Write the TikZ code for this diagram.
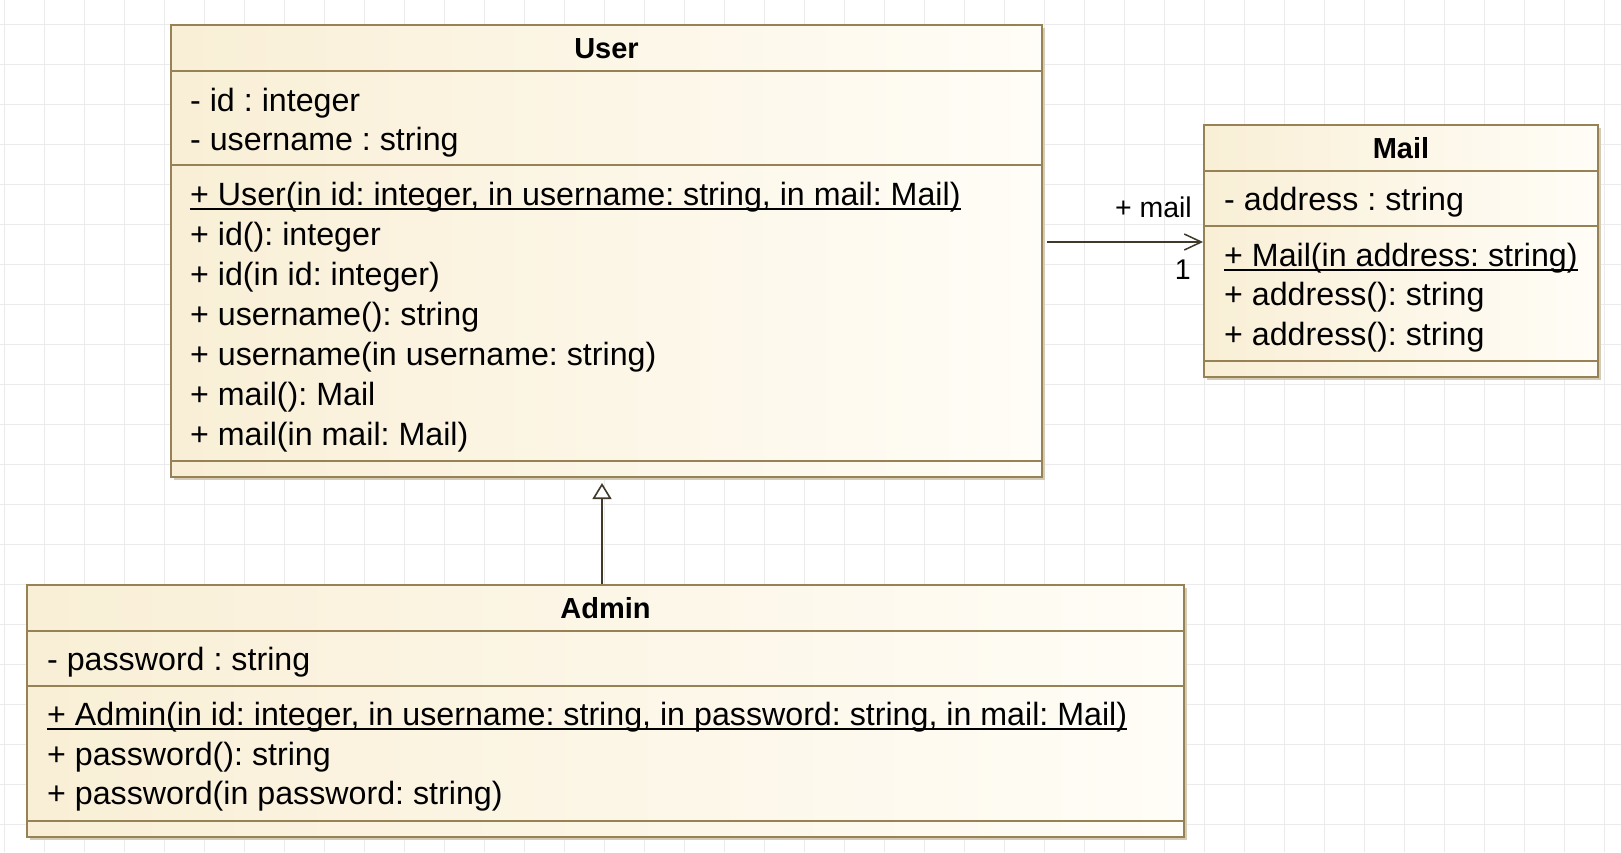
\documentclass[tikz,border=0pt]{standalone}
\usepackage{fontspec}
\setmainfont{Liberation Sans}
\usetikzlibrary{arrows.meta,shadows}
\definecolor{borderc}{RGB}{150,130,85}
\definecolor{shadowc}{RGB}{212,203,182}
\definecolor{fillL}{RGB}{249,239,214}
\definecolor{fillR}{RGB}{255,253,247}
\definecolor{arrowc}{RGB}{64,56,40}
\definecolor{gridc}{RGB}{235,235,235}
\frenchspacing
\begin{document}
\frenchspacing
\begin{tikzpicture}[x=1pt,y=-1pt,
  classbox/.style={draw=borderc, line width=2pt, left color=fillL, right color=fillR, inner sep=0pt,
    drop shadow={shadow xshift=3pt, shadow yshift=-3pt, fill=shadowc, opacity=1}},
  sepline/.style={draw=borderc, line width=1.3pt},
  mtxt/.style={anchor=base west, inner sep=0pt, font=\frenchspacing\fontsize{32.2pt}{40pt}\selectfont},
  hdr/.style={anchor=base, inner sep=0pt, font=\bfseries\fontsize{29pt}{36pt}\selectfont},
  lbl/.style={anchor=base east, inner sep=0pt, font=\fontsize{28.5pt}{34pt}\selectfont},
  ul/.style={draw=black, line width=2pt},
  assoc/.style={draw=arrowc, line width=2pt, -{Straight Barb[length=17pt, width=16pt, line width=1.5pt]}},
  inherit/.style={draw=arrowc, line width=2pt, -{Triangle[open, length=16pt, width=19pt, line width=1.6pt, fill=white]}}
]
\useasboundingbox (0,0) rectangle (1621,852);
\fill[white] (0,0) rectangle (1621,852);
\foreach \x in {4,44,...,1604} \draw[gridc, line width=1pt] (\x,0) -- (\x,852);
\foreach \y in {24,64,...,824} \draw[gridc, line width=1pt] (0,\y) -- (1621,\y);

% User
\node[classbox, minimum width=871pt, minimum height=452pt] (user) at (606.5,251) {};
\draw[sepline] ([yshift=-47pt]user.north west) -- ([yshift=-47pt]user.north east);
\draw[sepline] ([yshift=-141pt]user.north west) -- ([yshift=-141pt]user.north east);
\draw[sepline] ([yshift=17pt]user.south west) -- ([yshift=17pt]user.south east);
\node[hdr] (userT) at (606.5,58) {User};
\node[mtxt] (ua1) at (190,111) {- id : integer};
\node[mtxt] (ua2) at (190,150) {- username : string};
\node[mtxt] (um1) at (190,205) {+ User(in id: integer, in username: string, in mail: Mail)};
\draw[ul] ([yshift=-4pt]um1.base west) -- ([yshift=-4pt]um1.base east);
\node[mtxt] (um2) at (190,245) {+ id(): integer};
\node[mtxt] (um3) at (190,285) {+ id(in id: integer)};
\node[mtxt] (um4) at (190,325) {+ username(): string};
\node[mtxt] (um5) at (190,365) {+ username(in username: string)};
\node[mtxt] (um6) at (190,405) {+ mail(): Mail};
\node[mtxt] (um7) at (190,445) {+ mail(in mail: Mail)};

% Mail
\node[classbox, minimum width=394pt, minimum height=252pt] (mail) at (1401,251) {};
\draw[sepline] ([yshift=-47pt]mail.north west) -- ([yshift=-47pt]mail.north east);
\draw[sepline] ([yshift=-102pt]mail.north west) -- ([yshift=-102pt]mail.north east);
\draw[sepline] ([yshift=17pt]mail.south west) -- ([yshift=17pt]mail.south east);
\node[hdr] (mailT) at (1401,158) {Mail};
\node[mtxt] (ma1) at (1224,210) {- address : string};
\node[mtxt] (mm1) at (1224,266) {+ Mail(in address: string)};
\draw[ul] ([yshift=-4pt]mm1.base west) -- ([yshift=-4pt]mm1.base east);
\node[mtxt] (mm2) at (1224,305.5) {+ address(): string};
\node[mtxt] (mm3) at (1224,345) {+ address(): string};

% Admin
\node[classbox, minimum width=1157pt, minimum height=252pt] (admin) at (605.5,711) {};
\draw[sepline] ([yshift=-47pt]admin.north west) -- ([yshift=-47pt]admin.north east);
\draw[sepline] ([yshift=-102pt]admin.north west) -- ([yshift=-102pt]admin.north east);
\draw[sepline] ([yshift=17pt]admin.south west) -- ([yshift=17pt]admin.south east);
\node[hdr] (adminT) at (605.5,618) {Admin};
\node[mtxt] (aa1) at (47,670) {- password : string};
\node[mtxt] (am1) at (47,725) {+ Admin(in id: integer, in username: string, in password: string, in mail: Mail)};
\draw[ul] ([yshift=-4pt]am1.base west) -- ([yshift=-4pt]am1.base east);
\node[mtxt] (am2) at (47,765) {+ password(): string};
\node[mtxt] (am3) at (47,804) {+ password(in password: string)};

% Association User -> Mail
\draw[assoc] ([xshift=4pt,yshift=9pt]user.east) -- ([yshift=9pt]mail.west);
\node[lbl] (roleL) at (1192,217) {+ mail};
\node[lbl] (multL) at (1191,279) {1};

% Generalization Admin -> User
\draw[inherit] ([xshift=-3.5pt]admin.north) -- ([xshift=-4.5pt,yshift=-5pt]user.south);
\end{tikzpicture}
\end{document}
